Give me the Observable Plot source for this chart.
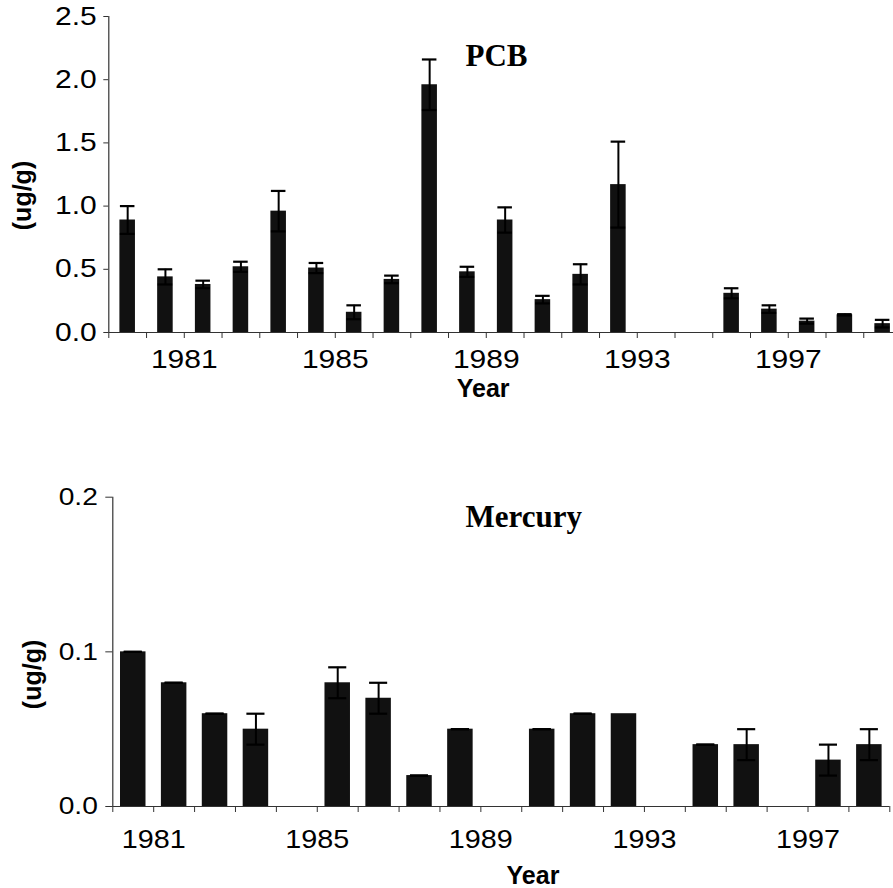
<!DOCTYPE html>
<html>
<head>
<meta charset="utf-8">
<script src="https://cdn.jsdelivr.net/npm/d3@7"></script>
<script src="https://cdn.jsdelivr.net/npm/@observablehq/plot@0.6"></script>
<style>
  html, body { margin: 0; padding: 0; background: #fff; overflow: hidden; }
  #chart svg { display: block; }
</style>
</head>
<body>
<div id="chart"></div>
<script>
// ---------- PCB data (ug/g) ----------
const pcbYears = [1980,1981,1982,1983,1984,1985,1986,1987,1988,1989,1990,1991,1992,1993,1994,1995,1996,1997,1998,1999,2000];
const pcbMean  = [0.89,0.44,0.38,0.52,0.96,0.51,0.16,0.42,1.96,0.48,0.89,0.26,0.46,1.17,null,null,0.31,0.185,0.09,0.14,0.07];
const pcbErr   = [0.11,0.06,0.03,0.04,0.16,0.04,0.055,0.03,0.20,0.04,0.10,0.03,0.08,0.34,null,null,0.04,0.03,0.02,0.005,0.03];
const pcbXLabels = [1981,1985,1989,1993,1997];
const pcbYTicks  = [0,0.5,1.0,1.5,2.0,2.5];

// ---------- Mercury data (ug/g) ----------
const hgYears = [1981,1982,1983,1984,1985,1986,1987,1988,1989,1990,1991,1992,1993,1994,1995,1996,1997,1998,1999];
const hgMean  = [0.10,0.08,0.06,0.05,null,0.08,0.07,0.02,0.05,null,0.05,0.06,0.06,null,0.04,0.04,null,0.03,0.04];
const hgErr   = [0,0,0,0.01,null,0.01,0.01,0,0,null,0,0,null,null,0,0.01,null,0.01,0.01];
const hgXLabels = [1981,1985,1989,1993,1997];
const hgYTicks  = [0,0.1,0.2];

const rows = (years, mean, err) => years.map((year, i) => ({year, mean: mean[i], err: err[i]}));
const pcbRows = rows(pcbYears, pcbMean, pcbErr);
const hgRows = rows(hgYears, hgMean, hgErr);

const SANS = "'Liberation Sans', Arial, sans-serif";
const SERIF = "'Liberation Serif', 'Times New Roman', serif";

function makeChart(data, years, opts) {
  const {width, height, mL, mR, mT, mB, yDomain, yTicks, yFmt, xLabels, title,
         barInset, capInset, yTickSize, yTickPad, xPad, titleDx, titleDy,
         yearDx, yearDy, unitDx, unitDy, xFont, yFont} = opts;
  const x0 = years[0], x1 = years[years.length - 1] + 1;
  const slot = (width - mR - mL) / (x1 - x0);
  const bars = data.filter(d => d.mean != null);
  const errs = bars.filter(d => d.err != null);
  const svg = Plot.plot({
    width, height,
    marginLeft: mL, marginRight: mR, marginTop: mT, marginBottom: mB,
    style: {fontFamily: SANS, background: "#fff", color: "#000", overflow: "visible"},
    x: {type: "linear", domain: [x0, x1]},
    y: {domain: yDomain},
    marks: [
      Plot.rectY(bars, {x1: "year", x2: d => d.year + 1, y: "mean", fill: "#111",
                        insetLeft: barInset, insetRight: barInset}),
      Plot.ruleX(errs, {x: d => d.year + 0.5, y1: d => d.mean - d.err, y2: d => d.mean + d.err,
                        stroke: "#000", strokeWidth: 2}),
      Plot.ruleY(errs, {y: d => d.mean + d.err, x1: "year", x2: d => d.year + 1,
                        insetLeft: capInset, insetRight: capInset, stroke: "#000", strokeWidth: 2.2}),
      Plot.ruleY(errs, {y: d => d.mean - d.err, x1: "year", x2: d => d.year + 1,
                        insetLeft: capInset, insetRight: capInset, stroke: "#000", strokeWidth: 2.2}),
      Plot.ruleY([0], {stroke: "#333", strokeWidth: 1.2}),
      Plot.ruleX([x0], {stroke: "#333", strokeWidth: 1.2}),
      Plot.axisY({ticks: yTicks, tickFormat: yFmt, tickSize: yTickSize, tickPadding: yTickPad,
                  fontSize: yFont, stroke: "#333", label: null}),
      Plot.axisX({ticks: d3.range(x0, x1 + 1), tickSize: 6, tickFormat: () => "",
                  stroke: "#333", label: null}),
      Plot.axisX({ticks: xLabels, tickSize: 0, tickPadding: xPad, tickFormat: d3.format("d"),
                  fontSize: xFont, dx: slot, label: null}),
      Plot.text([title], {frameAnchor: "top-left", textAnchor: "start", lineAnchor: "bottom",
                          dx: titleDx, dy: titleDy, fontFamily: SERIF, fontWeight: "bold",
                          fontSize: 31, fill: "#000"}),
      Plot.text(["Year"], {frameAnchor: "bottom", lineAnchor: "bottom", dx: yearDx, dy: yearDy,
                           fontWeight: "bold", fontSize: 25, fill: "#000"}),
      Plot.text(["(ug/g)"], {frameAnchor: "left", rotate: -90, textAnchor: "middle", lineAnchor: "middle",
                             dx: unitDx, dy: unitDy, fontWeight: "bold", fontSize: 25, fill: "#000"})
    ]
  });
  svg.style.maxWidth = "none";
  return svg;
}

function stretchNumbers(svg, sx) {
  svg.querySelectorAll("text").forEach(el => {
    if (!/^[0-9]/.test(el.textContent.trim())) return;
    const t = el.getAttribute("transform") || "";
    const x = +el.getAttribute("x") || 0;
    el.setAttribute("transform", `${t} translate(${x},0) scale(${sx},1) translate(${-x},0)`);
  });
}

const pcbChart = makeChart(pcbRows, pcbYears, {
  width: 893, height: 440, mL: 108.3, mR: -8, mT: 16, mB: 108,
  yDomain: [0, 2.5], yTicks: pcbYTicks, yFmt: d3.format(".1f"), xLabels: pcbXLabels, title: "PCB",
  barInset: 11.1, capInset: 11.6, yTickSize: 5, yTickPad: 7, xPad: 17.5,
  titleDx: 465 - 108.3, titleDy: 65 - 16,
  yearDx: -22, yearDy: 64.5, unitDx: -86.3, unitDy: 21, xFont: 25, yFont: 25
});
stretchNumbers(pcbChart, 1.2);

const hgChart = makeChart(hgRows, hgYears, {
  width: 893, height: 448, mL: 112.3, mR: 3.7, mT: 56.7, mB: 82,
  yDomain: [0, 0.2], yTicks: hgYTicks, yFmt: d3.format(".1f"), xLabels: hgXLabels, title: "Mercury",
  barInset: 7.7, capInset: 11.4, yTickSize: 7, yTickPad: 8, xPad: 24,
  titleDx: 465 - 112.3, titleDy: 526.7 - 496.7,
  yearDx: 31.7, yearDy: 77.5, unitDx: -79.8, unitDy: 22.6, xFont: 25, yFont: 24.5
});
stretchNumbers(hgChart, 1.15);

document.getElementById("chart").append(pcbChart, hgChart);
</script>
</body>
</html>
